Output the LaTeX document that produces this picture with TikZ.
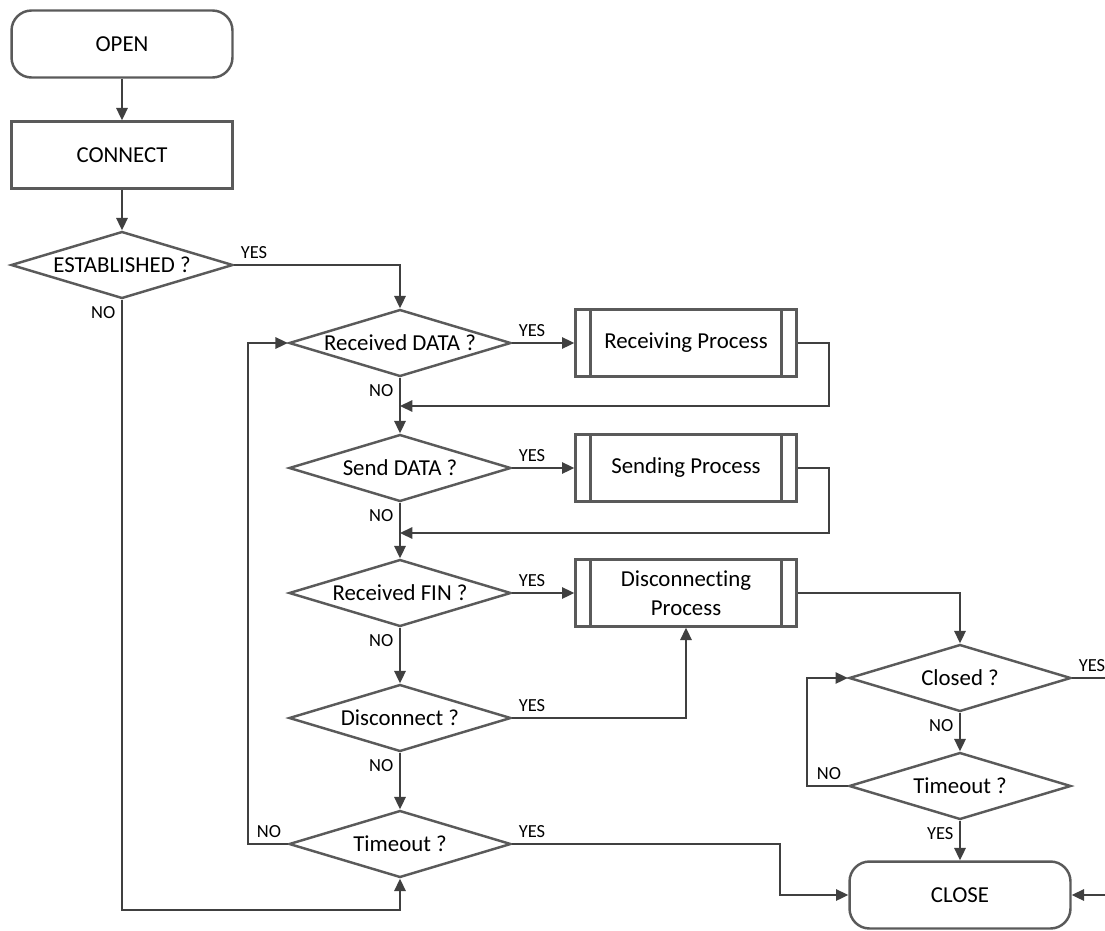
\documentclass[tikz,border=0pt]{standalone}
\usepackage{fontspec}
\setmainfont{Carlito}[Ligatures=NoCommon]
\usetikzlibrary{shapes.geometric,arrows.meta}
\definecolor{shapegray}{HTML}{5A5A5A}
\definecolor{linegray}{HTML}{404040}
\newcommand{\boxfont}{\fontsize{13}{16.5}\selectfont}
\newcommand{\tagfont}{\fontsize{10.5}{12}\selectfont}

\begin{document}
\begin{tikzpicture}[x=0.02cm, y=-0.02cm,
	terminal/.style={draw=shapegray, line width=1.4pt, rounded corners=0.4cm, minimum width=4.42cm, minimum height=1.34cm, font=\boxfont},
	process/.style={draw=shapegray, line width=1.4pt, minimum width=4.42cm, minimum height=1.34cm, font=\boxfont, align=center},
	decision/.style={diamond, draw=shapegray, line width=1.4pt, minimum width=4.44cm, minimum height=1.34cm, inner sep=0pt, label={[font=\boxfont]center:#1}},
	flow/.style={draw=linegray, line width=0.95pt, -{Triangle[length=7pt,width=6.5pt]}},
	link/.style={draw=linegray, line width=0.95pt},
	tag/.style={font=\tagfont}]
	\useasboundingbox (0,0) rectangle (1105,930);
	
	% start
	\node[terminal] (open) at (122,44) {OPEN};
	\node[process] (conn) at (122,155) {CONNECT};
	\node[decision=ESTABLISHED ?] (est) at (122,265) {};
	
	% main loop
	\node[decision=Received DATA ?] (rdata) at (400,343) {};
	\node[decision=Send DATA ?] (sdata) at (400,468) {};
	\node[decision=Received FIN ?] (rfin) at (400,593) {};
	\node[decision=Disconnect ?] (disc) at (400,718) {};
	\node[decision=Timeout ?] (tout) at (400,844) {};
	
	% processes
	\node[process] (recv) at (686,343) {Receiving Process};
	\node[process] (send) at (686,468) {Sending Process};
	\node[process] (dcon) at (686,593) {Disconnecting\\Process};
	\draw[shapegray, line width=1.4pt] ([xshift=0.32cm]recv.north west) -- ([xshift=0.32cm]recv.south west);
	\draw[shapegray, line width=1.4pt] ([xshift=-0.32cm]recv.north east) -- ([xshift=-0.32cm]recv.south east);
	\draw[shapegray, line width=1.4pt] ([xshift=0.32cm]send.north west) -- ([xshift=0.32cm]send.south west);
	\draw[shapegray, line width=1.4pt] ([xshift=-0.32cm]send.north east) -- ([xshift=-0.32cm]send.south east);
	\draw[shapegray, line width=1.4pt] ([xshift=0.32cm]dcon.north west) -- ([xshift=0.32cm]dcon.south west);
	\draw[shapegray, line width=1.4pt] ([xshift=-0.32cm]dcon.north east) -- ([xshift=-0.32cm]dcon.south east);
	
	% closing
	\node[decision=Closed ?] (closed) at (960,678) {};
	\node[decision=Timeout ?] (tout2) at (960,786) {};
	\node[terminal] (close) at (960,895) {CLOSE};
	
	% bends and loose ends
	\coordinate (estbend) at (122,910);
	\coordinate (rjoin) at (400,406);
	\coordinate (sjoin) at (400,533);
	\coordinate (closedout) at (1105,678);
	\coordinate (closein) at (1105,895);
	
	% connectors
	\draw[flow] (open) -- (conn);
	\draw[flow] (conn) -- (est);
	\draw[flow] (est.east) node[tag, above right] {YES} -| (rdata.north);
	\draw[flow] (est.south) node[tag, below left] {NO} -- (estbend) -| (tout.south);
	\draw[flow] (rdata.east) node[tag, above right] {YES} -- (recv.west);
	\draw[flow] (recv.east) -- ++(31,0) |- (rjoin);
	\draw[flow] (rdata.south) node[tag, below left] {NO} -- (sdata.north);
	\draw[flow] (sdata.east) node[tag, above right] {YES} -- (send.west);
	\draw[flow] (send.east) -- ++(31,0) |- (sjoin);
	\draw[flow] (sdata.south) node[tag, below left] {NO} -- (rfin.north);
	\draw[flow] (rfin.east) node[tag, above right] {YES} -- (dcon.west);
	\draw[flow] (rfin.south) node[tag, below left] {NO} -- (disc.north);
	\draw[flow] (dcon.east) -| (closed.north);
	\draw[flow] (disc.east) node[tag, above right] {YES} -| (dcon.south);
	\draw[flow] (disc.south) node[tag, below left] {NO} -- (tout.north);
	\draw[flow] (tout.west) node[tag, above left] {NO} -- ++(-40,0) |- (rdata.west);
	\draw[flow] (tout.east) node[tag, above right] {YES} -- ++(268,0) |- (close.west);
	\draw[link] (closed.east) node[tag, above right] {YES} -- (closedout);
	\draw[flow] (closed.south) node[tag, below left] {NO} -- (tout2.north);
	\draw[flow] (tout2.west) node[tag, above left] {NO} -- ++(-41,0) |- (closed.west);
	\draw[flow] (tout2.south) node[tag, below left] {YES} -- (close.north);
	\draw[flow] (closein) -- (close.east);
\end{tikzpicture}
\end{document}
